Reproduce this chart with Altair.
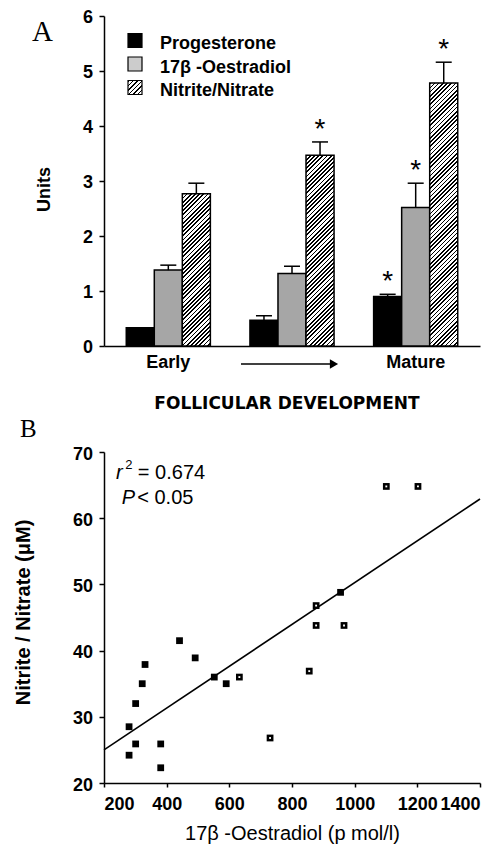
import math
import altair as alt
import pandas as pd

# ---------------- data : panel A ----------------
stages = ["Early", "Mid", "Mature"]
series = ["Progesterone", "17β -Oestradiol", "Nitrite/Nitrate"]
prog_mean = [0.33, 0.47, 0.90]
prog_top = [0.33, 0.55, 0.94]
oest_mean = [1.38, 1.32, 2.52]
oest_top = [1.47, 1.45, 2.96]
nitr_mean = [2.77, 3.47, 4.78]
nitr_top = [2.96, 3.71, 5.16]
prog_sig = [False, False, True]
oest_sig = [False, False, True]
nitr_sig = [False, True, True]

# ---------------- data : panel B ----------------
oest_x = [1101, 1202, 877, 955, 877, 966, 855, 730, 632, 590, 552,
          491, 441, 331, 322, 301, 280, 301, 280, 381, 381]
nitr_y = [64.8, 64.8, 46.8, 48.8, 43.8, 43.8, 36.9, 26.8, 36.0, 35.0, 36.0,
          38.9, 41.5, 37.9, 35.0, 32.0, 28.5, 25.9, 24.2, 25.9, 22.3]
hollow = [True, True, True, False, True, True, True, True, True, False, False,
          False, False, False, False, False, False, False, False, False, False]
fit_x = [200, 1400]
fit_y = [25.0, 62.9]

SANS = "Liberation Sans"
SERIF = "Liberation Serif"
GRAY = "#a6a6a6"
LEG_GRAY = "#cccccc"

WA, HA = 376, 330
WB, HB = 376, 331
PAD_IN, PAD_OUT = 0.32, 0.18
step = WA / (3 - PAD_IN + 2 * PAD_OUT)
bar_w = step * (1 - PAD_IN) / 3


def hatch(w, h, period=4.2, dark=0.42):
    L = w + h
    n = L / period
    k = L / (w * w + h * h)
    stops = []
    for j in range(int(math.ceil(n))):
        a = min(j / n, 1)
        b = min((j + dark) / n, 1)
        c = min((j + 1) / n, 1)
        stops += [(a, "black"), (b, "black"), (b, "white"), (c, "white")]
    return alt.LinearGradient(
        gradient="linear",
        stops=[alt.GradientStop(offset=o, color=col) for o, col in stops],
        x1=0, y1=0, x2=k * w, y2=k * h,
    )


rows = []
for i, st in enumerate(stages):
    for s, m, t, g in zip(series,
                          [prog_mean[i], oest_mean[i], nitr_mean[i]],
                          [prog_top[i], oest_top[i], nitr_top[i]],
                          [prog_sig[i], oest_sig[i], nitr_sig[i]]):
        rows.append(dict(stage=st, series=s, mean=m, top=t, sig=g))
dfA = pd.DataFrame(rows)
one = pd.DataFrame({"k": [0]})

axisXA = alt.Axis(
    title="FOLLICULAR DEVELOPMENT",
    labelExpr="datum.label == 'Mid' ? '' : datum.label",
    ticks=False, tickSize=0, labelAngle=0, labelBaseline="alphabetic",
    labelPadding=21, titleFont="DejaVu Sans", titleFontSize=17,
    titleX=182.5, titleY=62, titleBaseline="alphabetic",
)
axisYA = alt.Axis(
    values=[0, 1, 2, 3, 4, 5, 6], format="d", title="Units",
    titleX=-59.5, titleY=173, titleAngle=-90, titleAlign="center",
    titleBaseline="middle", tickSize=5, labelPadding=6.5, labelOffset=1,
)
xA = alt.X("stage:N", sort=stages,
           scale=alt.Scale(domain=stages, paddingInner=PAD_IN, paddingOuter=PAD_OUT),
           axis=axisXA)
xoA = alt.XOffset("series:N", sort=series,
                  scale=alt.Scale(domain=series, paddingInner=0, paddingOuter=0))


def yA(field):
    return alt.Y(f"{field}:Q", scale=alt.Scale(domain=[0, 6], nice=False), axis=axisYA)


bars_pg = alt.Chart(dfA).transform_filter(
    alt.FieldOneOfPredicate(field="series", oneOf=series[:2])
).mark_bar(stroke="black", strokeWidth=1.5).encode(
    x=xA, xOffset=xoA, y=yA("mean"),
    fill=alt.Fill("series:N", scale=alt.Scale(domain=series[:2], range=["black", GRAY]),
                  legend=None),
)

hatch_layers = []
for i, st in enumerate(stages):
    hatch_layers.append(
        alt.Chart(dfA).transform_filter(
            f"datum.series == '{series[2]}' && datum.stage == '{st}'"
        ).mark_bar(fill=hatch(bar_w, nitr_mean[i] * HA / 6), stroke="black", strokeWidth=1.5)
        .encode(x=xA, xOffset=xoA, y=yA("mean"))
    )

err = alt.Chart(dfA).transform_filter("datum.top > datum.mean").mark_rule(
    color="black", strokeWidth=1.5
).encode(x=xA, xOffset=xoA, y=yA("mean"), y2="top:Q")

caps = alt.Chart(dfA).transform_filter("datum.top > datum.mean").mark_tick(
    color="black", thickness=1.5, size=16, orient="horizontal", opacity=1
).encode(x=xA, xOffset=xoA, y=yA("top"))

stars = alt.Chart(dfA).transform_filter("datum.sig").mark_text(
    text="*", font=SANS, fontSize=28, baseline="alphabetic", dy=-4, color="black"
).encode(x=xA, xOffset=xoA, y=yA("top"))

leg_fills = ["black", LEG_GRAY, hatch(14, 14, period=4.5)]
legend_layers = []
for i, s in enumerate(series):
    yc = 24.5 + 23.5 * i
    legend_layers.append(
        alt.Chart(one).mark_rect(fill=leg_fills[i], stroke="black", strokeWidth=1.2)
        .encode(x=alt.value(24), x2=alt.value(38), y=alt.value(yc - 7), y2=alt.value(yc + 7))
    )
    legend_layers.append(
        alt.Chart(one).mark_text(text=s, font=SANS, fontSize=18, fontWeight="bold",
                                 align="left", baseline="alphabetic", color="black")
        .encode(x=alt.value(56), y=alt.value(yc + 8.5))
    )

arrow_line = alt.Chart(one).mark_rule(color="black", strokeWidth=1.5).encode(
    x=alt.value(137), x2=alt.value(228), y=alt.value(348))
arrow_head = alt.Chart(one).mark_point(shape="triangle-right", filled=True, size=90,
                                       color="black", opacity=1).encode(
    x=alt.value(230), y=alt.value(348))
letterA = alt.Chart(one).mark_text(text="A", font=SERIF, fontSize=29, align="left",
                                   baseline="alphabetic", color="black").encode(
    x=alt.value(-72), y=alt.value(25))

panelA = alt.layer(bars_pg, *hatch_layers, err, caps, stars, *legend_layers,
                   arrow_line, arrow_head, letterA).properties(width=WA, height=HA)

# ---------------- panel B ----------------
dfB = pd.DataFrame({"x": oest_x, "y": nitr_y, "hollow": hollow})
dfFit = pd.DataFrame({"x": fit_x, "y": fit_y})

axisXB = alt.Axis(
    values=[200, 400, 600, 800, 1000, 1200, 1400], format="d",
    title="17β -Oestradiol (p mol/l)", titleFontWeight="normal", titleFontSize=20,
    titleX=188, titleY=56.5, titleBaseline="alphabetic",
    tickSize=4, labelBaseline="alphabetic", labelPadding=22.5,
)
axisYB = alt.Axis(
    values=[20, 30, 40, 50, 60, 70], format="d", title="Nitrite / Nitrate (μM)",
    titleFontSize=20, titleX=-80.5, titleY=160, titleAngle=-90, titleAlign="center",
    titleBaseline="middle", tickSize=5, labelPadding=6.5, labelOffset=2,
)
xB = alt.X("x:Q", scale=alt.Scale(domain=[200, 1400], nice=False, zero=False), axis=axisXB)
yB = alt.Y("y:Q", scale=alt.Scale(domain=[20, 70], nice=False, zero=False), axis=axisYB)

fit = alt.Chart(dfFit).mark_line(color="black", strokeWidth=1.6).encode(x=xB, y=yB)
pts = alt.Chart(dfB).mark_square(size=46, color="black", opacity=1).encode(x=xB, y=yB)
holes = alt.Chart(dfB).transform_filter("datum.hollow").mark_square(
    size=3.5, color="white", opacity=1).encode(x=xB, y=yB)


def ann(txt, x, y, size=20, style="normal"):
    return alt.Chart(one).mark_text(text=txt, font=SANS, fontSize=size, fontStyle=style,
                                    align="left", baseline="alphabetic", color="black"
                                    ).encode(x=alt.datum(x), y=alt.datum(y))


ann_layers = [
    ann("r", 238, 65.9, style="italic"),
    ann("2", 268, 67.4, size=13),
    ann("= 0.674", 308, 65.9),
    ann("P", 257, 62.2, style="italic"),
    ann("< 0.05", 306, 62.2),
]
letterB = alt.Chart(one).mark_text(text="B", font=SERIF, fontSize=25, align="left",
                                   baseline="alphabetic", color="black").encode(
    x=alt.value(-84), y=alt.value(-15))

panelB = alt.layer(fit, pts, holes, *ann_layers, letterB).properties(width=WB, height=HB)

chart = alt.vconcat(panelA, panelB, spacing=106, bounds="flush").properties(
    padding={"left": 5, "top": 0, "right": 0, "bottom": 0}
).configure_view(stroke=None).configure_axis(
    labelFont=SANS, labelFontSize=18, labelFontWeight="bold", labelColor="black",
    titleFont=SANS, titleFontSize=18, titleFontWeight="bold", titleColor="black",
    domainColor="black", domainWidth=1.5, tickColor="black", tickWidth=1.5, grid=False,
)

chart.save("out.html", embed_options={"renderer": "svg", "actions": False})
